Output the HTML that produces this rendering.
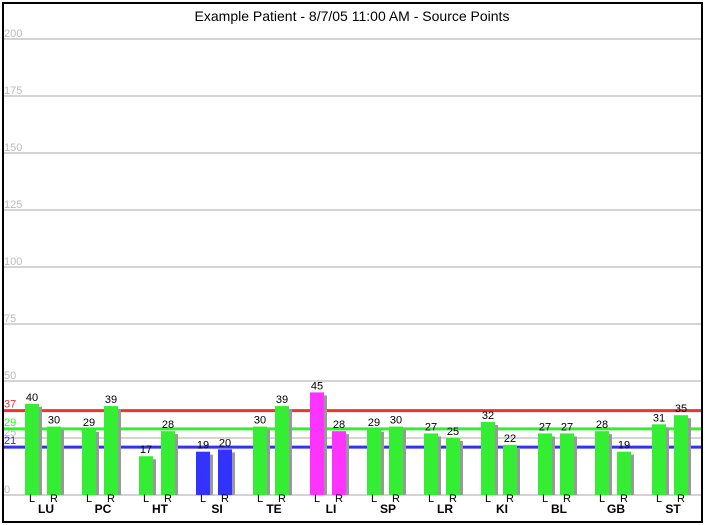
<!DOCTYPE html>
<html><head><meta charset="utf-8"><style>
body{margin:0;background:#fff;}
svg{display:block;font-family:"Liberation Sans",sans-serif;}
</style></head><body>
<svg id="c" width="705" height="525">
<rect x="3" y="3" width="699" height="519" fill="#fff" stroke="#000" stroke-width="2"/>
<text x="352" y="21" text-anchor="middle" font-size="14">Example Patient - 8/7/05 11:00 AM - Source Points</text>
</svg>
<script>
const categories=["LU","PC","HT","SI","TE","LI","SP","LR","KI","BL","GB","ST"];
const leftValues=[40,29,17,19,30,45,29,27,32,27,28,31];
const rightValues=[30,39,28,20,39,28,30,25,22,27,19,35];
const groupColors=["#33ee33","#33ee33","#33ee33","#3333ff","#33ee33","#ff33ff","#33ee33","#33ee33","#33ee33","#33ee33","#33ee33","#33ee33"];
const yTicks=[0,25,50,75,100,125,150,175,200];
const refValues=[37,29,21];
const refColors=["#ee3333","#33ee33","#3333ee"];
const svg=document.getElementById('c');
const NS="http://www.w3.org/2000/svg";
const y0=495,yTop=39,yMax=200;
const y=v=>y0-(v/yMax)*(y0-yTop);
const gx=i=>25+57*i;
function mk(t,a,parent){const e=document.createElementNS(NS,t);for(const k in a)e.setAttribute(k,a[k]);(parent||svg).appendChild(e);return e;}
yTicks.forEach(t=>{
 const l=mk('line',{x1:4,x2:701,y1:y(t),y2:y(t),stroke:'#aaa','stroke-width':1});
 
 
 const tx=mk('text',{x:4,y:y(t)-2,'font-size':11,fill:'#bbb'});tx.textContent=t;
 
 
});
refValues.forEach((v,i)=>{
 const l=mk('line',{x1:4,x2:701,y1:y(v),y2:y(v),stroke:refColors[i],'stroke-width':3});
 
 
 const tx=mk('text',{x:4,y:y(v)-3,'font-size':11,fill:refColors[i]});tx.textContent=v;
 
 
});
function bar(x,v,col,name,side){
 const s=mk('rect',{x:x+3,y:y(v)+3,width:14,height:y0-y(v)-3,fill:'#999'});
 
 
 const r=mk('rect',{x:x,y:y(v),width:14,height:y0-y(v),fill:col});
 
 
 const t=mk('text',{x:x+7,y:y(v)-3,'text-anchor':'middle','font-size':11});t.textContent=v;
 
 
 const sl=mk('text',{x:x+7,y:502,'text-anchor':'middle','font-size':11});sl.textContent=side;
 
 
}
categories.forEach((c,i)=>{
 const x=gx(i);
 bar(x,leftValues[i],groupColors[i],'bar-'+c.toLowerCase()+'-left','L');
 bar(x+22,rightValues[i],groupColors[i],'bar-'+c.toLowerCase()+'-right','R');
 const t=mk('text',{x:x+21,y:513,'text-anchor':'middle','font-size':12,'font-weight':'bold'});t.textContent=c;
 
 
});
</script>
</body></html>
